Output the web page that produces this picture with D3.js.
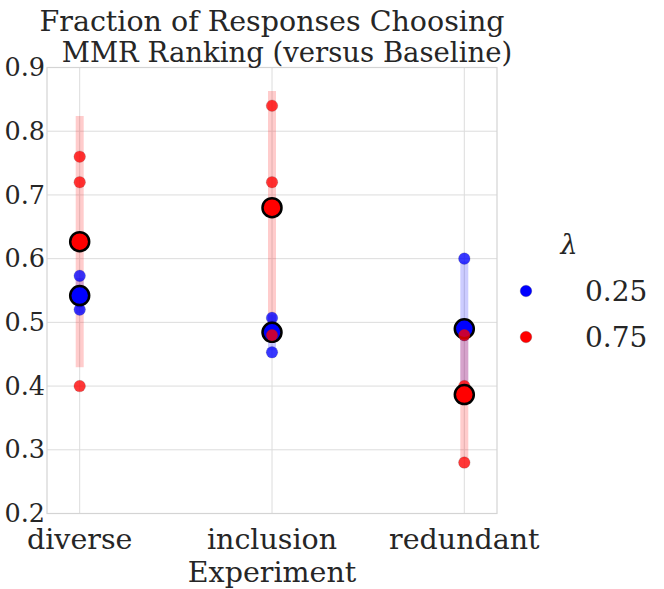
<!DOCTYPE html>
<html>
<head>
<meta charset="utf-8">
<script src="https://cdn.jsdelivr.net/npm/d3@7"></script>
<style>
  body { margin: 0; background: #fff; }
  text { font-family: "DejaVu Serif", serif; fill: #262626; }
</style>
</head>
<body>
<div id="chart"></div>
<script>
var experiments = ["diverse", "inclusion", "redundant"];
var lambdas = ["0.25", "0.75"];
// individual responses per experiment, per lambda
var blueValues = [
    [0.573, 0.533, 0.520],
    [0.507, 0.493, 0.453],
    [0.600, 0.480, 0.390]
];
var redValues = [
    [0.760, 0.720, 0.400],
    [0.840, 0.720, 0.480],
    [0.480, 0.400, 0.280]
];
var yTicks = [0.2, 0.3, 0.4, 0.5, 0.6, 0.7, 0.8, 0.9];

var width = 664, height = 589,
    margin = { top: 67.5, right: 167, bottom: 75.5, left: 47 };

var series = [
    { name: lambdas[0], color: "#0000ff", values: blueValues },
    { name: lambdas[1], color: "#ff0000", values: redValues }
];

var svg = d3.select("#chart").append("svg")
    .attr("width", width).attr("height", height);

var x = d3.scaleLinear()
    .domain([-0.17, experiments.length - 1 + 0.17])
    .range([margin.left, width - margin.right]);
var y = d3.scaleLinear()
    .domain([0.2, 0.9])
    .range([height - margin.bottom, margin.top]);

// grid
svg.append("g").selectAll("line.h").data(yTicks).enter().append("line")
    .attr("x1", x.range()[0]).attr("x2", x.range()[1])
    .attr("y1", function(d) { return y(d); }).attr("y2", function(d) { return y(d); })
    .attr("stroke", "#dcdcdc").attr("stroke-width", 1);
svg.append("g").selectAll("line.v").data(experiments).enter().append("line")
    .attr("x1", function(d, i) { return x(i); }).attr("x2", function(d, i) { return x(i); })
    .attr("y1", y.range()[0]).attr("y2", y.range()[1])
    .attr("stroke", "#dcdcdc").attr("stroke-width", 1);
svg.append("rect")
    .attr("x", x.range()[0]).attr("y", y.range()[1])
    .attr("width", x.range()[1] - x.range()[0]).attr("height", y.range()[0] - y.range()[1])
    .attr("fill", "none").attr("stroke", "#d4d4d4").attr("stroke-width", 1.2);

// y tick labels
svg.append("g").selectAll("text").data(yTicks).enter().append("text")
    .attr("x", x.range()[0] - 2)
    .attr("y", function(d) { return y(d); })
    .attr("dy", "0.34em")
    .attr("text-anchor", "end")
    .style("font-size", "25.5px")
    .text(function(d) { return d3.format(".1f")(d); });

// x tick labels
svg.append("g").selectAll("text").data(experiments).enter().append("text")
    .attr("x", function(d, i) { return x(i); })
    .attr("y", 548.5)
    .attr("text-anchor", "middle")
    .style("font-size", "28.5px")
    .text(function(d) { return d; });

svg.append("text")
    .attr("x", (x.range()[0] + x.range()[1]) / 2)
    .attr("y", 582)
    .attr("text-anchor", "middle")
    .style("font-size", "28.5px")
    .text("Experiment");

// title
svg.append("text")
    .attr("x", (x.range()[0] + x.range()[1]) / 2)
    .attr("y", 31)
    .attr("text-anchor", "middle")
    .style("font-size", "28.5px")
    .text("Fraction of Responses Choosing");
svg.append("text")
    .attr("x", (x.range()[0] + x.range()[1]) / 2 + 15)
    .attr("y", 62)
    .attr("text-anchor", "middle")
    .style("font-size", "27.5px")
    .text("MMR Ranking (versus Baseline)");

function stats(vals) {
    var m = d3.mean(vals), s = d3.deviation(vals);
    return { mean: m, lo: m - s, hi: m + s };
}

// error bars (mean +/- sd)
series.forEach(function(s) {
    svg.append("g").selectAll("line").data(s.values).enter().append("line")
        .attr("x1", function(d, i) { return x(i); }).attr("x2", function(d, i) { return x(i); })
        .attr("y1", function(d) { return y(stats(d).lo); })
        .attr("y2", function(d) { return y(stats(d).hi); })
        .attr("stroke", s.color).attr("stroke-opacity", 0.2).attr("stroke-width", 8);
});

// points and means
series.forEach(function(s) {
    var pts = [];
    s.values.forEach(function(vals, i) {
        vals.forEach(function(v) { pts.push({ i: i, v: v }); });
    });
    svg.append("g").selectAll("circle").data(pts).enter().append("circle")
        .attr("cx", function(d) { return x(d.i); })
        .attr("cy", function(d) { return y(d.v); })
        .attr("r", 5.8)
        .attr("fill", s.color).attr("fill-opacity", 0.78)
        .attr("stroke", "#444").attr("stroke-opacity", 0.3).attr("stroke-width", 0.6);
    svg.append("g").selectAll("circle").data(s.values).enter().append("circle")
        .attr("cx", function(d, i) { return x(i); })
        .attr("cy", function(d) { return y(stats(d).mean); })
        .attr("r", 9.5)
        .attr("fill", s.color)
        .attr("stroke", "#000").attr("stroke-width", 2.5);
});

// legend
var legend = svg.append("g");
legend.append("text")
    .attr("x", 569).attr("y", 254)
    .attr("text-anchor", "middle")
    .style("font-size", "27px").style("font-style", "italic")
    .text("\u03bb");
var item = legend.selectAll("g.item").data(series).enter().append("g")
    .attr("transform", function(d, i) { return "translate(0," + (291 + i * 46) + ")"; });
item.append("circle")
    .attr("cx", 526).attr("cy", 0).attr("r", 5.8)
    .attr("fill", function(d) { return d.color; })
    .attr("stroke", "#444").attr("stroke-opacity", 0.4).attr("stroke-width", 0.6);
item.append("text")
    .attr("x", 585).attr("y", 0).attr("dy", "0.36em")
    .style("font-size", "28px")
    .text(function(d) { return d.name; });
</script>
</body>
</html>
